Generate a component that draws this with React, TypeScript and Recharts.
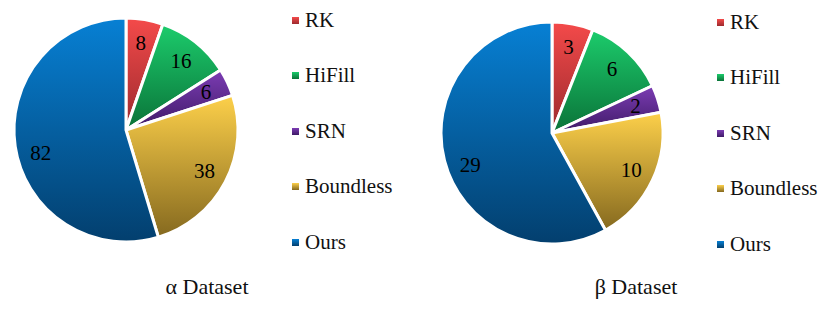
import React from "react";
import { Cell, Pie, PieChart } from "recharts";

const methods = ["RK", "HiFill", "SRN", "Boundless", "Ours"];
const alphaCounts = [8, 16, 6, 38, 82];
const betaCounts = [3, 6, 2, 10, 29];
const titles = ["α Dataset", "β Dataset"];

// top / bottom colour of each slice gradient
const shades = [
  ["#f44a4a", "#9c2a2e"],
  ["#1ccc6c", "#0a7238"],
  ["#7c3cb4", "#3e1a66"],
  ["#fdd04a", "#85691f"],
  ["#0780d4", "#033f6e"],
];

const font = "'Times New Roman', 'Liberation Serif', Times, serif";

const toRows = (counts: number[]) => methods.map((name, i) => ({ name, value: counts[i] }));
const alphaData = toRows(alphaCounts);
const betaData = toRows(betaCounts);

const RADIAN = Math.PI / 180;
function renderLabel(props: any) {
  const { cx, cy, midAngle, outerRadius, value, percent } = props;
  // big slices get their label nudged a bit lower, like the original
  const angle = percent > 0.5 ? midAngle + 7 : midAngle;
  const r = outerRadius * 0.79;
  const x = cx + r * Math.cos(-angle * RADIAN);
  const y = cy + r * Math.sin(-angle * RADIAN);
  return (
    <text x={x} y={y} textAnchor="middle" dominantBaseline="central" fill="#000" fontSize={21} fontFamily={font}>
      {value}
    </text>
  );
}

function LegendBlock({ left, top }: { left: number; top: number }) {
  return (
    <div style={{ position: "absolute", left, top }}>
      {methods.map((m, i) => (
        <div key={m} style={{ position: "absolute", top: i * 55.5, left: 0, display: "flex", alignItems: "center", whiteSpace: "nowrap", height: 20, marginTop: -10 }}>
          <span style={{ width: 7, height: 7, background: `linear-gradient(${shades[i][0]}, ${shades[i][1]})`, marginRight: 6 }} />
          <span style={{ fontFamily: font, fontSize: 21, color: "#111" }}>{m}</span>
        </div>
      ))}
    </div>
  );
}

const titleStyle: React.CSSProperties = {
  position: "absolute", top: 287, transform: "translate(-50%,-50%)", fontFamily: font, fontSize: 22, whiteSpace: "nowrap", color: "#111",
};

export default function App() {
  return (
    <div style={{ position: "absolute", left: 0, top: 0, width: 831, height: 315, background: "#fff" }}>
      <PieChart width={831} height={315} margin={{ top: 0, right: 0, bottom: 0, left: 0 }}>
        <defs>
          {shades.map((s, i) => (
            <linearGradient key={i} id={`sl${i}`} x1="0" y1="0" x2="0" y2="1">
              <stop offset="0%" stopColor={s[0]} />
              <stop offset="100%" stopColor={s[1]} />
            </linearGradient>
          ))}
        </defs>
        <Pie data={alphaData} dataKey="value" nameKey="name" cx={126} cy={130} outerRadius={112} startAngle={90} endAngle={-270}
          stroke="#fff" strokeWidth={3} label={renderLabel} labelLine={false} isAnimationActive={false}>
          {alphaData.map((d, i) => <Cell key={d.name} fill={`url(#sl${i})`} />)}
        </Pie>
        <Pie data={betaData} dataKey="value" nameKey="name" cx={552} cy={133} outerRadius={111} startAngle={90} endAngle={-270}
          stroke="#fff" strokeWidth={3} label={renderLabel} labelLine={false} isAnimationActive={false}>
          {betaData.map((d, i) => <Cell key={d.name} fill={`url(#sl${i})`} />)}
        </Pie>
      </PieChart>
      <LegendBlock left={292} top={20} />
      <LegendBlock left={717} top={22} />
      <div style={{ ...titleStyle, left: 207 }}>{titles[0]}</div>
      <div style={{ ...titleStyle, left: 636 }}>{titles[1]}</div>
    </div>
  );
}
